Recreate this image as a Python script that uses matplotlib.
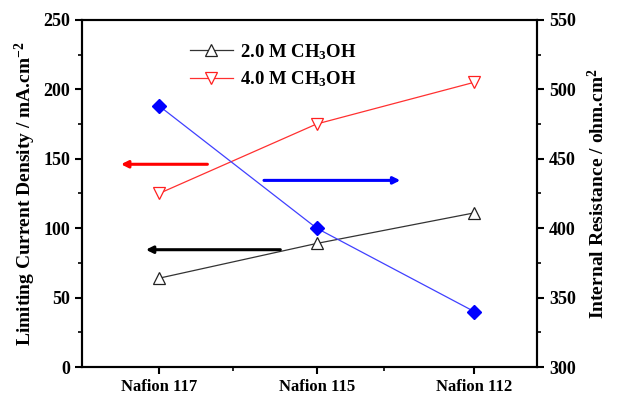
import matplotlib
matplotlib.use("Agg")
import matplotlib.pyplot as plt
from matplotlib.ticker import MultipleLocator, FixedLocator

plt.rcParams['font.family'] = 'Liberation Serif'
plt.rcParams['font.weight'] = 'bold'
plt.rcParams['axes.labelweight'] = 'bold'
plt.rcParams['mathtext.fontset'] = 'custom'
plt.rcParams['mathtext.rm'] = 'Liberation Serif:bold'
plt.rcParams['mathtext.it'] = 'Liberation Serif:bold'
plt.rcParams['mathtext.bf'] = 'Liberation Serif:bold'
plt.rcParams['mathtext.default'] = 'rm'

membranes = ["Nafion 117", "Nafion 115", "Nafion 112"]
xpos = [1, 2, 3]
current_2M = [64, 89, 111]
current_4M = [125, 175, 205]
resistance = [488, 400, 340]

fig = plt.figure(figsize=(6.21, 3.96), dpi=100)
ax = fig.add_axes([0.132, 0.073, 0.733, 0.877])
ax2 = ax.twinx()

l1, = ax.plot(xpos, current_2M, color='#333333', lw=0.9, marker='^', ms=9,
              mfc='white', mec='#222222', mew=0.9, label='2.0 M CH$_3$OH')
l2, = ax.plot(xpos, current_4M, color='#ff3030', lw=0.9, marker='v', ms=9,
              mfc='white', mec='#ff2020', mew=0.9, label='4.0 M CH$_3$OH')
ax2.plot(xpos, resistance, color='#4040ff', lw=0.9, marker='D', ms=7,
         mfc='#0000ff', mec='#0000ff')

ax.set_xlim(0.51, 3.4)
ax.set_ylim(0, 250)
ax2.set_ylim(300, 550)
ax.set_xticks(xpos)
ax.set_xticklabels(membranes)
ax.xaxis.set_minor_locator(FixedLocator([1.47, 2.43]))
ax.yaxis.set_major_locator(MultipleLocator(50))
ax.yaxis.set_minor_locator(MultipleLocator(25))
ax2.yaxis.set_major_locator(MultipleLocator(50))
ax2.yaxis.set_minor_locator(MultipleLocator(25))

for a in (ax, ax2):
    for s in a.spines.values():
        s.set_linewidth(1.5)
    a.tick_params(which='major', direction='out', length=5, width=1.5, labelsize=13)
    a.tick_params(which='minor', direction='out', length=3, width=1.2)
ax.tick_params(axis='x', labelsize=12)
ax.tick_params(top=False, which='both')
ax2.tick_params(top=False, which='both')

ax.set_ylabel("Limiting Current Density / mA.cm$^{-2}$", fontsize=14, labelpad=4)
ax2.set_ylabel("Internal Resistance / ohm.cm$^2$", fontsize=14, labelpad=8)

# direction arrows
ax.annotate('', xy=(0.74, 146), xytext=(1.324, 146),
            arrowprops=dict(arrowstyle='-|>', color='#ff0000', lw=2.2, mutation_scale=10))
ax.annotate('', xy=(0.898, 84.5), xytext=(1.787, 84.5),
            arrowprops=dict(arrowstyle='-|>', color='#000000', lw=2.2, mutation_scale=10))
ax.annotate('', xy=(2.549, 134.4), xytext=(1.648, 134.4),
            arrowprops=dict(arrowstyle='-|>', color='#0000ff', lw=2.2, mutation_scale=10))

ax.legend(handles=[l1, l2], loc='upper left', bbox_to_anchor=(0.2, 0.985),
          frameon=False, fontsize=13.5, handlelength=2.3, handletextpad=0.35,
          labelspacing=0.4, markerscale=0.9)

fig.savefig("out.png", dpi=100)
